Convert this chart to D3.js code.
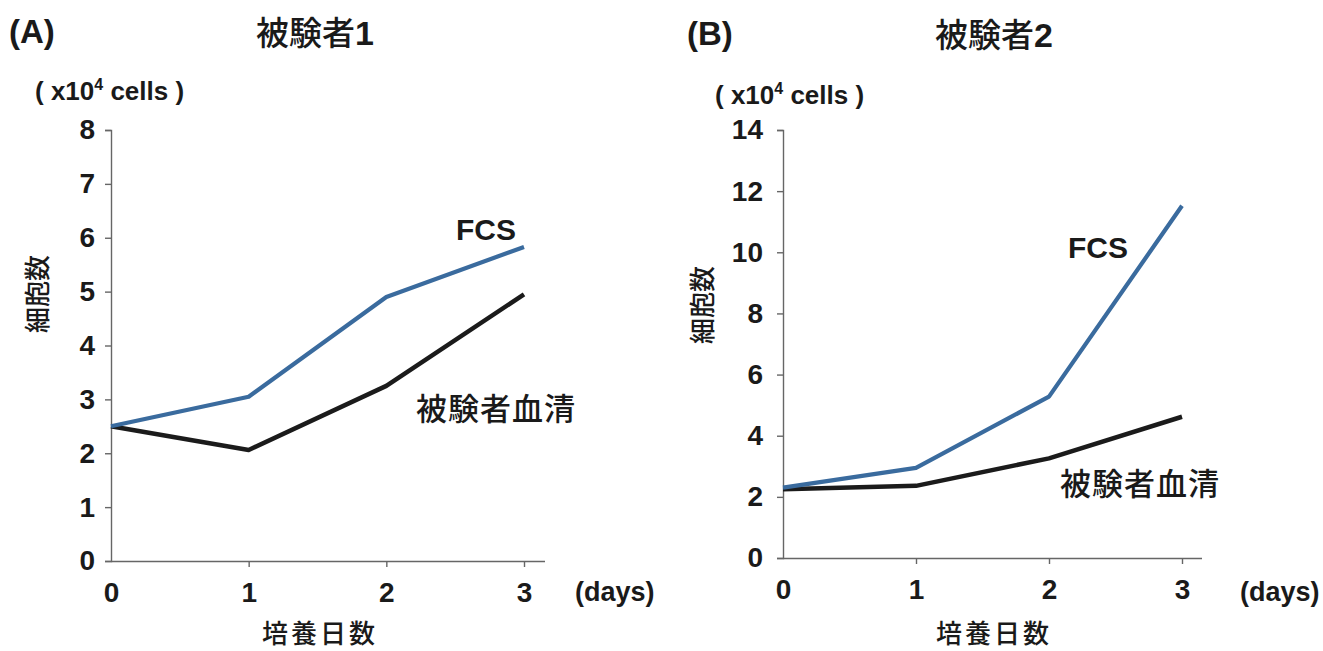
<!DOCTYPE html>
<html>
<head>
<meta charset="utf-8">
<script src="https://cdn.jsdelivr.net/npm/d3@7"></script>
<style>
  body { margin: 0; background: #fff; }
  svg { display: block; }
  .tick text { font-family: "Liberation Sans", Arial, sans-serif; font-weight: bold; font-size: 28px; fill: #1a1a1a; }
  .jp { font-family: "Noto Sans CJK JP", sans-serif; fill: #1a1a1a; }
  .lat { font-family: "Liberation Sans", Arial, sans-serif; font-weight: bold; fill: #1a1a1a; }
</style>
</head>
<body>
<div id="chart"></div>
<script>
// data (x10^4 cells)
let days = [0, 1, 2, 3]
let x_ticks = [0, 1, 2, 3]
let fcs_a = [2.5, 3.05, 4.9, 5.83]
let serum_a = [2.5, 2.06, 3.25, 4.95]
let fcs_b = [2.3, 2.95, 5.28, 11.52]
let serum_b = [2.25, 2.36, 3.26, 4.62]
let y_ticks_a = [0, 1, 2, 3, 4, 5, 6, 7, 8]
let y_ticks_b = [0, 2, 4, 6, 8, 10, 12, 14]

let blue = "#3a6b9e"
let black = "#1b1b1b"
let axis_col = "#666"

let svg = d3.select("#chart")
    .append("svg")
        .attr("width", 1323)
        .attr("height", 651)

let panels = [
    {letter: "(A)", title: "被験者", num: "1", fcs: fcs_a, serum: serum_a, y_ticks: y_ticks_a, y_max: 8,
     left: 111, right: 545, top: 130, bottom: 561, day3: 524, pad: 10,
     letter_x: 9, title_x: 315, title_y: 45, unit_x: 35, unit_y: 100, ylab_x: 35, ylab_y: 294,
     fcs_lab: [486, 240], serum_lab: [496, 420], days_x: 575, xlab_x: 320},
    {letter: "(B)", title: "被験者", num: "2", fcs: fcs_b, serum: serum_b, y_ticks: y_ticks_b, y_max: 14,
     left: 783, right: 1202, top: 130, bottom: 558, day3: 1182, pad: 14,
     letter_x: 687, title_x: 994, title_y: 47, unit_x: 715, unit_y: 104, ylab_x: 700, ylab_y: 305,
     fcs_lab: [1098, 258], serum_lab: [1140, 495], days_x: 1240, xlab_x: 994}
]

panels.forEach(p => draw_panel(p))

function draw_panel(p){
    let x = d3.scaleLinear().domain([0, 3]).range([p.left, p.day3])
    let y = d3.scaleLinear().domain([0, p.y_max]).range([p.bottom, p.top])

    // axes
    let xa = svg.append("g")
        .attr("transform", "translate(0," + p.bottom + ")")
        .call(d3.axisBottom(x).tickValues(x_ticks).tickFormat(d3.format("d"))
            .tickSize(6).tickPadding(15).tickSizeOuter(0))
    xa.select(".domain").attr("d", "M" + p.left + ",0.5H" + p.right)
    xa.selectAll(".tick").filter(d => d === 0).select("line").remove()

    svg.append("g")
        .attr("transform", "translate(" + p.left + ",0)")
        .call(d3.axisLeft(y).tickValues(p.y_ticks).tickFormat(d3.format("d"))
            .tickSize(6).tickPadding(p.pad).tickSizeOuter(6))

    svg.selectAll(".domain, .tick line").attr("stroke", axis_col).attr("stroke-width", 1.4)

    // lines
    let line = d3.line()
        .x((d, i) => x(days[i]))
        .y(d => y(d))

    svg.append("path")
        .datum(p.serum)
        .attr("fill", "none")
        .attr("stroke", black)
        .attr("stroke-width", 4.5)
        .attr("stroke-linejoin", "round")
        .attr("d", line)

    svg.append("path")
        .datum(p.fcs)
        .attr("fill", "none")
        .attr("stroke", blue)
        .attr("stroke-width", 4.2)
        .attr("stroke-linejoin", "round")
        .attr("d", line)

    // texts
    svg.append("text").attr("class", "lat")
        .attr("x", p.letter_x).attr("y", p.title_y - 2)
        .attr("font-size", 33)
        .text(p.letter)

    let title = svg.append("text").attr("class", "jp")
        .attr("x", p.title_x).attr("y", p.title_y)
        .attr("text-anchor", "middle")
        .attr("font-size", 33).attr("font-weight", 500)
    title.append("tspan").text(p.title)
    title.append("tspan")
        .attr("font-family", "Liberation Sans, Arial, sans-serif")
        .attr("font-weight", "bold")
        .attr("font-size", 34)
        .text(p.num)

    let unit = svg.append("text").attr("class", "lat")
        .attr("x", p.unit_x).attr("y", p.unit_y)
        .attr("font-size", 26)
    unit.append("tspan").text("( x10")
    unit.append("tspan").attr("font-size", 16).attr("dy", -10).text("4")
    unit.append("tspan").attr("dy", 10).text(" cells )")

    svg.append("text").attr("class", "jp")
        .attr("transform", "translate(" + p.ylab_x + "," + p.ylab_y + ") rotate(-90)")
        .attr("text-anchor", "middle")
        .attr("dominant-baseline", "central")
        .attr("font-size", 26).attr("font-weight", 500)
        .text("細胞数")

    svg.append("text").attr("class", "lat")
        .attr("x", p.fcs_lab[0]).attr("y", p.fcs_lab[1])
        .attr("text-anchor", "middle")
        .attr("font-size", 30)
        .text("FCS")

    svg.append("text").attr("class", "jp")
        .attr("x", p.serum_lab[0]).attr("y", p.serum_lab[1])
        .attr("text-anchor", "middle")
        .attr("font-size", 31).attr("font-weight", 500)
        .attr("letter-spacing", 1)
        .text("被験者血清")

    svg.append("text").attr("class", "lat")
        .attr("x", p.days_x).attr("y", 601)
        .attr("font-size", 27)
        .text("(days)")

    svg.append("text").attr("class", "jp")
        .attr("x", p.xlab_x).attr("y", 643)
        .attr("text-anchor", "middle")
        .attr("font-size", 26).attr("font-weight", 500)
        .attr("letter-spacing", 3)
        .text("培養日数")
}
</script>
</body>
</html>
